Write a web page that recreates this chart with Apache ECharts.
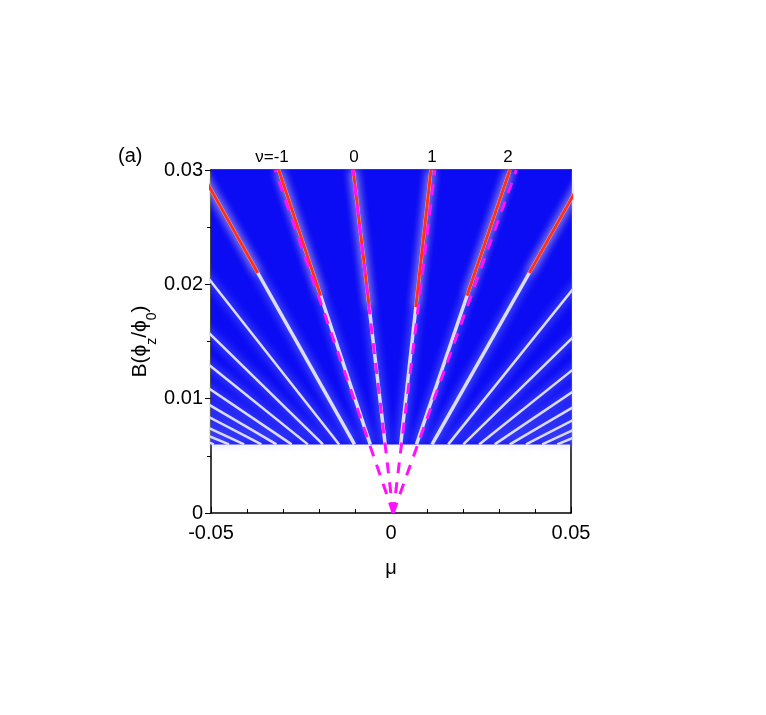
<!DOCTYPE html>
<html><head><meta charset="utf-8">
<script src="https://cdn.jsdelivr.net/npm/echarts@6/dist/echarts.min.js"></script>
<style>html,body{margin:0;background:#fff}#c{width:766px;height:715px}</style>
</head><body><div id="c"></div>
<script>
// fan centre and visible B window
var mu0 = 0.0006;
var bLow = 0.006, bHigh = 0.03;
// slopes dmu/dB of the Landau lines
var slopes = [-0.37, -1.06, -1.79, -2.5, -3.25, -3.95, -4.7, -5.4, -6.1, -6.9, -7.6, -8.3,
              0.35, 1.08, 1.8, 2.55, 3.25, 3.98, 4.7, 5.4, 6.15, 6.9, 7.6, 8.3];
// the strong (red) levels and B where red starts
var redSlopes = [-1.06, -0.37, 0.35, 1.08, -1.79, 1.8];
var redFrom = [0.019, 0.018, 0.018, 0.019, 0.021, 0.021];
// dashed guide lines: mu at B=0.03
var guideTops = [-0.0322, -0.0106, 0.0122, 0.0348];
var topLabels = ['ν=-1', '0', '1', '2'];
var topLabelX = [272, 354, 432, 508];

var chart = echarts.init(document.getElementById('c'));
var series = [];
slopes.forEach(function (k) {
  series.push({type: 'line', symbol: 'none', silent: true, z: 3,
    lineStyle: {color: '#dcdcff', width: Math.abs(k) < 2 ? 3.5 : 2.5,
      shadowColor: '#9aa8ff', shadowBlur: 10},
    data: [[mu0 + k * bLow, bLow], [mu0 + k * bHigh, bHigh]]});
});
redSlopes.forEach(function (k, i) {
  series.push({type: 'line', symbol: 'none', silent: true, z: 4,
    lineStyle: {color: '#ff3018', width: 3, shadowColor: '#ffc8c0', shadowBlur: 8},
    data: [[mu0 + k * redFrom[i], redFrom[i]], [mu0 + k * bHigh, bHigh]]});
});
guideTops.forEach(function (t) {
  series.push({type: 'line', symbol: 'none', silent: true, z: 5,
    lineStyle: {color: '#ff10ff', width: 3, type: [11, 9]},
    data: [[mu0, 0], [t, bHigh]]});
});
series[0].markArea = {silent: true, itemStyle: {color: '#0c0cf4'},
  data: [[{coord: [-0.05, bLow]}, {coord: [0.05, bHigh]}]]};

var font = 'Liberation Sans';
var graphics = [{type: 'text', left: 118, top: 146, style: {text: '(a)', font: '20px ' + font, fill: '#000'}}];
topLabels.forEach(function (s, i) {
  graphics.push({type: 'text', x: topLabelX[i], y: 157, style: {text: s, font: '17px ' + font, fill: '#000', textAlign: 'center', textVerticalAlign: 'middle'}});
});

chart.setOption({
  animation: false,
  grid: {left: 211, right: 195, top: 170, bottom: 202},
  graphic: graphics,
  xAxis: [{type: 'value', min: -0.05, max: 0.05, interval: 0.05,
    name: 'μ', nameLocation: 'middle', nameGap: 45, nameTextStyle: {fontFamily: font, fontSize: 20, color: '#000'},
    axisLine: {onZero: false, lineStyle: {color: '#000', width: 1.5}}, axisTick: {inside: true, length: 6, lineStyle: {color: '#000'}},
    minorTick: {show: true, splitNumber: 5, length: 4, lineStyle: {color: '#000'}},
    axisLabel: {fontFamily: font, fontSize: 20, color: '#000', margin: 10,
      formatter: function (v) { return v === 0 ? '0' : v.toFixed(2); }},
    splitLine: {show: false}},
   {type: 'value', position: 'top', min: -0.05, max: 0.05, axisLine: {onZero: false, lineStyle: {color: '#000', width: 1.5}},
    axisTick: {show: false}, axisLabel: {show: false}, splitLine: {show: false}}],
  yAxis: [{type: 'value', min: 0, max: 0.03, interval: 0.01,
    name: 'B{p|(}ϕ{s|z}/ϕ{s|0}{p|)}', nameLocation: 'middle', nameGap: 60, nameRotate: 90,
    nameTextStyle: {fontFamily: font, fontSize: 21, color: '#000',
      rich: {s: {fontSize: 14, verticalAlign: 'bottom', padding: [0, 0, -8, 0]}, p: {fontSize: 21}}},
    axisLine: {onZero: false, lineStyle: {color: '#000', width: 1.5}}, axisTick: {length: 6, lineStyle: {color: '#000'}},
    minorTick: {show: true, splitNumber: 2, length: 4, lineStyle: {color: '#000'}},
    axisLabel: {fontFamily: font, fontSize: 20, color: '#000', margin: 8,
      formatter: function (v) { return v === 0 ? '0' : v.toFixed(2); }},
    splitLine: {show: false}},
   {type: 'value', position: 'right', min: 0, max: 0.03, axisLine: {show: true, onZero: false, lineStyle: {color: '#000', width: 1.5}},
    axisTick: {show: false}, axisLabel: {show: false}, splitLine: {show: false}}],
  series: series
});
</script></body></html>
